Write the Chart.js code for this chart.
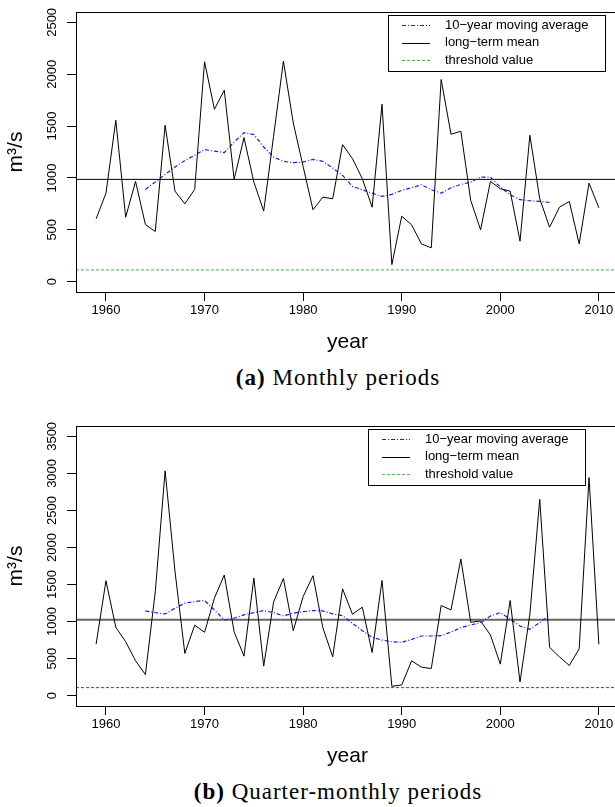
<!DOCTYPE html>
<html>
<head>
<meta charset="utf-8">
<script src="https://cdn.jsdelivr.net/npm/chart.js@4.4.1/dist/chart.umd.min.js"></script>
<style>
  html, body { margin: 0; padding: 0; background: #fff; overflow: hidden; }
  #page { position: relative; width: 615px; height: 807px; overflow: hidden; }
  .panel { position: absolute; left: 0; }
  .caption { position: absolute; left: 0; width: 676px; text-align: center;
             font-family: 'Liberation Serif', serif; font-size: 23px; line-height: 26px;
             letter-spacing: 1px; color: #000; }
</style>
</head>
<body>
<div id="page">
  <canvas id="monthlyChart" class="panel" width="640" height="360" style="top:0"></canvas>
  <div class="caption" style="top:365px"><b>(a)</b> Monthly periods</div>
  <canvas id="quarterChart" class="panel" width="640" height="360" style="top:414px"></canvas>
  <div class="caption" style="top:779px"><b>(b)</b> Quarter-monthly periods</div>
</div>
<script>
// data
const years = [1959, 1960, 1961, 1962, 1963, 1964, 1965, 1966, 1967, 1968,
  1969, 1970, 1971, 1972, 1973, 1974, 1975, 1976, 1977, 1978,
  1979, 1980, 1981, 1982, 1983, 1984, 1985, 1986, 1987, 1988,
  1989, 1990, 1991, 1992, 1993, 1994, 1995, 1996, 1997, 1998,
  1999, 2000, 2001, 2002, 2003, 2004, 2005, 2006, 2007, 2008,
  2009, 2010];
const avgYears = years.slice(5, 47); // 1964 .. 2005

const monthlyFlow = [606, 853, 1556, 621, 966, 551, 483, 1508, 873, 751,
  889, 2120, 1662, 1846, 986, 1389, 960, 680, 1400, 2126,
  1530, 1110, 693, 815, 799, 1321, 1186, 993, 718, 1711,
  164, 631, 548, 364, 326, 1949, 1421, 1450, 783, 500,
  966, 896, 873, 390, 1411, 799, 525, 718, 773, 364,
  950, 712];
const monthlyAvg = [889, 960, 1034, 1105, 1169, 1218, 1273, 1259, 1244, 1346,
  1437, 1418, 1298, 1201, 1160, 1147, 1153, 1179, 1160, 1095,
  1024, 918, 886, 853, 822, 841, 880, 905, 934, 886,
  853, 905, 937, 960, 1008, 1008, 911, 838, 790, 780,
  773, 764];
const monthlyMean = 986;
const monthlyThreshold = 113;

const quarterFlow = [696, 1551, 922, 728, 470, 285, 1400, 3034, 1680, 570,
  950, 855, 1316, 1628, 863, 533, 1587, 398, 1262, 1582,
  877, 1338, 1619, 917, 524, 1442, 1099, 1194, 583, 1555,
  126, 144, 470, 384, 366, 1216, 1157, 1845, 990, 1008,
  818, 425, 1284, 185, 1100, 2650, 651, 524, 407, 632,
  2944, 692];
const quarterAvg = [1144, 1121, 1103, 1180, 1248, 1270, 1284, 1157, 1022, 1045,
  1090, 1121, 1148, 1121, 1076, 1113, 1134, 1148, 1144, 1103,
  1080, 977, 877, 787, 750, 728, 719, 760, 805, 805,
  809, 859, 917, 954, 985, 1076, 1121, 1031, 940, 896,
  985, 1090];
const quarterMean = 1026;
const quarterThreshold = 108;

const xTicks = [1960, 1970, 1980, 1990, 2000, 2010];
const monthlyYTicks = [0, 500, 1000, 1500, 2000, 2500];
const quarterYTicks = [0, 500, 1000, 1500, 2000, 2500, 3000, 3500];

const legendLabels = ['10\u2212year moving average', 'long\u2212term mean', 'threshold value'];

Chart.defaults.font.family = "'Liberation Sans', Arial, sans-serif";
Chart.defaults.color = '#000';

const plotBox = {
  id: 'plotBox',
  afterDraw(chart) {
    const { ctx, chartArea: a } = chart;
    ctx.save();
    ctx.strokeStyle = '#000';
    ctx.lineWidth = 1;
    ctx.strokeRect(a.left + 0.5, a.top + 0.5, a.right - a.left, a.bottom - a.top);
    ctx.restore();
  }
};

// R style legend box inside the plot
const boxLegend = {
  id: 'boxLegend',
  afterDraw(chart, args, opts) {
    const { ctx } = chart;
    ctx.save();
    ctx.fillStyle = '#fff';
    ctx.fillRect(opts.left, opts.top, opts.width, opts.height);
    ctx.strokeStyle = '#000';
    ctx.lineWidth = 1;
    ctx.strokeRect(opts.left + 0.5, opts.top + 0.5, opts.width, opts.height);
    ctx.font = "13px 'Liberation Sans', Arial, sans-serif";
    ctx.textBaseline = 'middle';
    legendLabels.forEach((lab, i) => {
      const ds = chart.data.datasets.find(d => d.label === lab);
      const y = opts.top + 10 + i * 17.5;
      ctx.strokeStyle = ds.legendColor || ds.borderColor;
      ctx.lineWidth = 1;
      ctx.setLineDash(ds.borderDash || []);
      ctx.beginPath();
      ctx.moveTo(opts.left + 14, Math.round(y) + 0.5);
      ctx.lineTo(opts.left + 42, Math.round(y) + 0.5);
      ctx.stroke();
      ctx.setLineDash([]);
      ctx.fillStyle = '#000';
      ctx.fillText(lab, opts.left + 57, y);
    });
    ctx.restore();
  }
};

function makeChart(id, flow, avg, mean, threshold, yMin, yMax, yTicks, look) {
  const xMin = 1956.96, xMax = 2012.04;
  return new Chart(document.getElementById(id), {
    type: 'line',
    data: {
      datasets: [
        {
          label: 'flow',
          data: years.map((y, i) => ({ x: y, y: flow[i] })),
          borderColor: '#000', borderWidth: 1
        },
        {
          label: legendLabels[0],
          data: avgYears.map((y, i) => ({ x: y, y: avg[i] })),
          borderColor: 'rgb(25,25,255)', borderWidth: 1.2, borderDash: [4, 2, 1, 2]
        },
        {
          label: legendLabels[1],
          data: [{ x: xMin, y: mean }, { x: xMax, y: mean }],
          borderColor: look.meanColor, borderWidth: look.meanWidth, legendColor: '#000'
        },
        {
          label: legendLabels[2],
          data: [{ x: xMin, y: threshold }, { x: xMax, y: threshold }],
          borderColor: look.thrColor, borderWidth: 1, borderDash: [3, 2], legendColor: 'rgb(80,175,80)'
        }
      ]
    },
    options: {
      responsive: false,
      animation: false,
      devicePixelRatio: 1,
      elements: { point: { radius: 0 }, line: { tension: 0 } },
      layout: { padding: { top: 12, right: 21, bottom: 0, left: 0 } },
      plugins: {
        legend: { display: false },
        tooltip: { enabled: false },
        boxLegend: { left: look.legendLeft, top: 15, width: 217, height: 56 }
      },
      scales: {
        x: {
          type: 'linear', min: xMin, max: xMax,
          afterFit: s => { s.height = 68; },
          afterBuildTicks: s => { s.ticks = xTicks.map(v => ({ value: v })); },
          grid: { drawOnChartArea: false, drawTicks: true, tickLength: 9, color: '#000' },
          border: { display: true, color: '#000' },
          ticks: { autoSkip: false, maxRotation: 0, padding: 2, font: { size: 13 }, callback: v => String(v) },
          title: { display: true, text: 'year', font: { size: 21 }, padding: { top: 0, bottom: 5 } }
        },
        y: {
          type: 'linear', min: yMin, max: yMax,
          afterFit: s => { s.width = 76; },
          afterBuildTicks: s => { s.ticks = yTicks.map(v => ({ value: v })); },
          grid: { drawOnChartArea: false, drawTicks: true, tickLength: 9, color: '#000' },
          border: { display: true, color: '#000' },
          ticks: { autoSkip: false, minRotation: 90, maxRotation: 90, crossAlign: 'center', padding: 0,
                   font: { size: 13 }, callback: v => String(v) },
          title: { display: true, text: 'm\u00b3/s', font: { size: 21 }, padding: { top: 4, bottom: 0 } }
        }
      }
    },
    plugins: [plotBox, boxLegend]
  });
}

makeChart('monthlyChart', monthlyFlow, monthlyAvg, monthlyMean, monthlyThreshold, -100, 2600, monthlyYTicks,
  { meanColor: '#000', meanWidth: 1, thrColor: 'rgb(80,175,80)', legendLeft: 388 });
makeChart('quarterChart', quarterFlow, quarterAvg, quarterMean, quarterThreshold, -140, 3640, quarterYTicks,
  { meanColor: '#666', meanWidth: 2, thrColor: 'rgb(0,130,0)', legendLeft: 368 });
</script>
</body>
</html>
